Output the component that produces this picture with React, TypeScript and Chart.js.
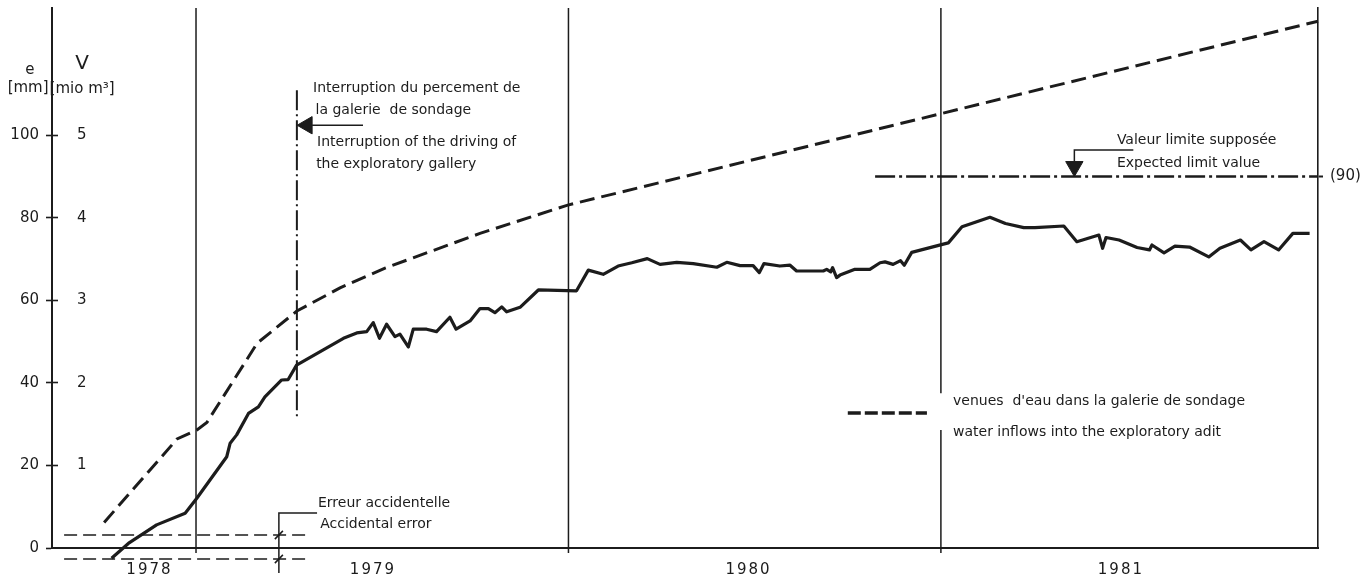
import React, { useEffect, useRef } from 'react';
import { Chart, registerables } from 'chart.js';

Chart.register(...registerables);

const FONT = '"DejaVu Sans", sans-serif';
const INK = '#1c1c1c';

// x = months since 1 January 1978
const X_MIN = 7.36;
const X_MAX = 48.15;
const E_MAX = 130.8; // mm
const V_MAX = E_MAX / 20; // mio m3

const yearLabels = ['1978', '1979', '1980', '1981'];
const yearLabelPos = [10.5, 17.7, 29.8, 41.8];
const yearBoundaries = [12, 24, 36];

const eTicks = [0, 20, 40, 60, 80, 100];
const vTicks = [1, 2, 3, 4, 5];
const limitValue = 90;
const limitLabel = '(90)';

// convergence e [mm] (solid line)
const convMonths = [
  9.28, 9.82, 10.73, 11.65, 12.02, 12.99, 13.1, 13.31, 13.69, 14.01, 14.22, 14.76, 14.97, 15.24,
  16.75, 17.18, 17.5, 17.71, 17.91, 18.14, 18.41, 18.57, 18.84, 19.0, 19.43, 19.75, 20.18, 20.38,
  20.83, 21.15, 21.42, 21.63, 21.85, 22.01, 22.44, 23.03, 24.26, 24.64, 25.12, 25.6, 26.04, 26.54,
  26.95, 27.49, 28.02, 28.78, 29.1, 29.53, 29.95, 30.15, 30.3, 30.81, 31.14, 31.35, 32.21, 32.32,
  32.45, 32.51, 32.64, 32.75, 33.23, 33.71, 34.04, 34.2, 34.46, 34.7, 34.82, 35.06, 36.08, 36.24,
  36.68, 37.58, 38.08, 38.67, 39.03, 39.96, 40.38, 41.09, 41.21, 41.32, 41.74, 42.32, 42.72, 42.8,
  43.19, 43.54, 44.01, 44.63, 44.99, 45.65, 45.99, 46.41, 46.88, 47.34, 47.88,
];
const convValues = [
  -2.5, 1.1, 5.6, 8.4, 12.0, 22.1, 25.4, 27.4, 32.6, 34.2, 36.6, 40.7, 40.8, 44.3,
  50.8, 52.1, 52.4, 54.6, 50.8, 54.2, 51.2, 51.8, 48.7, 53.0, 53.0, 52.4, 55.9, 53.0,
  55.0, 58.0, 58.0, 57.0, 58.4, 57.2, 58.3, 62.5, 62.3, 67.3, 66.3, 68.3, 69.1, 70.1,
  68.7, 69.2, 68.9, 68.0, 69.2, 68.4, 68.4, 66.7, 68.9, 68.3, 68.5, 67.1, 67.1, 67.5,
  66.9, 67.9, 65.5, 66.1, 67.5, 67.5, 69.1, 69.3, 68.7, 69.6, 68.5, 71.6, 73.6, 73.9,
  77.8, 80.1, 78.6, 77.6, 77.6, 78.0, 74.2, 75.8, 72.6, 75.2, 74.6, 72.8, 72.2, 73.4,
  71.5, 73.1, 72.9, 70.5, 72.6, 74.6, 72.2, 74.2, 72.2, 76.2, 76.2,
];

// water inflows V [mio m3] (dashed line)
const inflowMonths = [9.04, 11.39, 12.03, 12.35, 13.97, 15.25, 16.64, 18.09, 21.15, 23.95, 48.15];
const inflowValues = [0.31, 1.32, 1.43, 1.52, 2.48, 2.87, 3.15, 3.39, 3.81, 4.15, 6.38];

// annotation geometry (data units)
const limitStart = 33.88;
const interruptionMonth = 15.25;
const interruptionRange = [31.0, 110.9];
const interruptionArrowE = 102.4;
const errorLevels = [3.15, -2.66];
const errorRange = [7.75, 15.67];
const errorLeaderMonth = 14.67;
const legendRange = [33.0, 35.55];
const legendE = 32.7;
const legendGap = [28.6, 37.5];

const annotationTexts = [
  { text: 'e', m: 6.65, e: 115.7, size: 15, align: 'center' },
  { text: '[mm]', m: 6.59, e: 111.4, size: 15, align: 'center' },
  { text: 'V', m: 8.33, e: 117.4, size: 20, align: 'center' },
  { text: '[mio m³]', m: 8.33, e: 111.1, size: 15, align: 'center' },
  { text: 'Interruption du percement de', m: 15.77, e: 111.4, size: 14, align: 'left' },
  { text: 'la galerie  de sondage', m: 15.85, e: 106.1, size: 14, align: 'left' },
  { text: 'Interruption of the driving of', m: 15.9, e: 98.3, size: 14, align: 'left' },
  { text: 'the exploratory gallery', m: 15.87, e: 93.0, size: 14, align: 'left' },
  { text: 'Erreur accidentelle', m: 15.93, e: 10.9, size: 14, align: 'left' },
  { text: 'Accidental error', m: 16.0, e: 5.8, size: 14, align: 'left' },
  { text: 'Valeur limite supposée', m: 41.67, e: 98.8, size: 14, align: 'left' },
  { text: 'Expected limit value', m: 41.67, e: 93.2, size: 14, align: 'left' },
  { text: "venues  d'eau dans la galerie de sondage", m: 36.39, e: 35.6, size: 14, align: 'left' },
  { text: 'water inflows into the exploratory adit', m: 36.39, e: 28.1, size: 14, align: 'left' },
];

const textPlugin = {
  id: 'annotationText',
  afterDatasetsDraw(chart: any) {
    // spaced lettering for the year labels drawn right after (x ticks z = 1)
    (chart.ctx as any).letterSpacing = '2px';
  },
  afterDraw(chart: any) {
    const { ctx } = chart;
    (ctx as any).letterSpacing = '0px';
    const xs = chart.scales.x;
    const ys = chart.scales.y;
    ctx.save();
    ctx.fillStyle = INK;
    ctx.textBaseline = 'middle';
    for (const t of annotationTexts) {
      ctx.font = `${t.size}px ${FONT}`;
      ctx.textAlign = t.align;
      ctx.fillText(t.text, xs.getPixelForValue(t.m), ys.getPixelForValue(t.e));
    }
    ctx.restore();
  },
};

const seg = (pts: [number, number | null][]) => pts.map(([x, y]) => ({ x, y }));

const noPad = (s: any) => {
  s.paddingTop = 0;
  s.paddingBottom = 0;
  s.paddingLeft = 0;
  s.paddingRight = 0;
};

export default function App() {
  const ref = useRef<HTMLCanvasElement>(null);

  useEffect(() => {
    if (!ref.current) return;
    const base = {
      showLine: true,
      borderColor: INK,
      backgroundColor: INK,
      pointRadius: 0,
      tension: 0,
      clip: false as any,
      yAxisID: 'y',
    };
    const yearLineData = yearBoundaries.map((b) =>
      b === 36
        ? seg([[b, -1.2], [b, legendGap[0]], [b, null], [b, legendGap[1]], [b, E_MAX]])
        : seg([[b, -1.2], [b, E_MAX]])
    );
    const datasets: any[] = [
      ...yearLineData.map((d) => ({ ...base, data: d, borderWidth: 1.5 })),
      {
        ...base,
        label: 'convergence',
        data: convMonths.map((m, i) => ({ x: m, y: convValues[i] })),
        borderWidth: 3.2,
        borderJoinStyle: 'round',
      },
      {
        ...base,
        label: 'water inflows',
        yAxisID: 'yV',
        data: inflowMonths.map((m, i) => ({ x: m, y: inflowValues[i] })),
        borderWidth: 3,
        borderDash: [15, 7],
      },
      // expected limit value
      { ...base, data: seg([[limitStart, limitValue], [X_MAX, limitValue]]), borderWidth: 2.5, borderDash: [20, 4, 3, 4] },
      { ...base, data: seg([[40.3, 93.6], [40.3, 96.4], [42.2, 96.4]]), borderWidth: 1.5 },
      {
        ...base, showLine: false, data: seg([[40.3, limitValue + 2.4]]),
        pointRadius: 10, pointStyle: 'triangle', pointRotation: 180,
        pointBackgroundColor: INK, pointBorderColor: INK, pointBorderWidth: 1,
      },
      // interruption of the driving
      {
        ...base,
        data: seg([[interruptionMonth, interruptionRange[1]], [interruptionMonth, interruptionRange[0]]]),
        borderWidth: 2, borderDash: [20, 4, 2, 4],
      },
      { ...base, data: seg([[15.74, interruptionArrowE], [17.38, interruptionArrowE]]), borderWidth: 1.5 },
      {
        ...base, showLine: false, data: seg([[15.58, interruptionArrowE]]),
        pointRadius: 10, pointStyle: 'triangle', pointRotation: -90,
        pointBackgroundColor: INK, pointBorderColor: INK, pointBorderWidth: 1,
      },
      // accidental error
      ...errorLevels.map((lv) => ({
        ...base, data: seg([[errorRange[0], lv], [errorRange[1], lv]]), borderWidth: 1.6, borderDash: [13, 6],
      })),
      {
        ...base,
        data: seg([[15.9, 8.5], [errorLeaderMonth, 8.5], [errorLeaderMonth, -6.05]]),
        borderWidth: 1.5,
      },
      {
        ...base,
        data: seg([
          [errorLeaderMonth - 0.13, errorLevels[0] - 1.0], [errorLeaderMonth + 0.13, errorLevels[0] + 1.0], [errorLeaderMonth, null],
          [errorLeaderMonth - 0.13, errorLevels[1] - 1.0], [errorLeaderMonth + 0.13, errorLevels[1] + 1.0],
        ]),
        borderWidth: 1.5,
      },
      // legend sample
      { ...base, data: seg([[legendRange[0], legendE], [legendRange[1], legendE]]), borderWidth: 3.5, borderDash: [13, 4] },
    ];

    const tickFont = { family: FONT, size: 15 };
    const chart = new Chart(ref.current, {
      type: 'scatter',
      data: { datasets },
      plugins: [textPlugin],
      options: {
        responsive: false,
        animation: false,
        events: [],
        layout: { padding: { top: 8, left: 0, right: 0, bottom: 0 }, autoPadding: false },
        plugins: { legend: { display: false }, tooltip: { enabled: false } },
        elements: { point: { radius: 0 } },
        scales: {
          x: {
            type: 'linear',
            position: 'bottom',
            min: X_MIN,
            max: X_MAX,
            afterBuildTicks: (s: any) => { s.ticks = yearLabelPos.map((v) => ({ value: v })); },
            afterFit: (s: any) => { s.height = 34; noPad(s); },
            ticks: {
              z: 1,
              autoSkip: false, maxRotation: 0, padding: 13, color: INK, font: tickFont,
              callback: (_v: any, i: number) => yearLabels[i],
            },
            grid: { display: false, drawTicks: false },
            border: { display: true, color: INK, width: 2 },
          },
          yV: {
            type: 'linear',
            position: 'left',
            weight: 0,
            min: 0,
            max: V_MAX,
            afterBuildTicks: (s: any) => { s.ticks = vTicks.map((v) => ({ value: v })); },
            afterFit: (s: any) => { s.width = 0; noPad(s); },
            ticks: { mirror: true, crossAlign: 'center', padding: 25, color: INK, font: tickFont },
            grid: { display: true, drawOnChartArea: false, drawTicks: true, tickLength: -6, color: INK, tickWidth: 1.6 },
            border: { display: false },
          },
          y: {
            type: 'linear',
            position: 'left',
            weight: 10,
            min: 0,
            max: E_MAX,
            afterBuildTicks: (s: any) => { s.ticks = eTicks.map((v) => ({ value: v })); },
            afterFit: (s: any) => { s.width = 52; noPad(s); },
            ticks: { padding: 7, color: INK, font: tickFont },
            grid: { display: true, drawOnChartArea: false, drawTicks: true, tickLength: 6, color: INK, tickWidth: 1.6 },
            border: { display: true, color: INK, width: 2 },
          },
          yR: {
            type: 'linear',
            position: 'right',
            min: 0,
            max: E_MAX,
            afterBuildTicks: (s: any) => { s.ticks = [{ value: limitValue }]; },
            afterFit: (s: any) => { s.width = 44; noPad(s); },
            ticks: { padding: 7, color: INK, font: tickFont, callback: () => limitLabel },
            grid: { display: true, drawOnChartArea: false, drawTicks: true, tickLength: 5, color: INK, tickWidth: 2 },
            border: { display: true, color: INK, width: 1.6 },
          },
        },
      } as any,
    });
    return () => chart.destroy();
  }, []);

  return (
    <div style={{ position: 'fixed', left: 0, top: 0, width: 1362, height: 582, background: '#fff' }}>
      <canvas ref={ref} width={1362} height={582} style={{ display: 'block' }} />
    </div>
  );
}
